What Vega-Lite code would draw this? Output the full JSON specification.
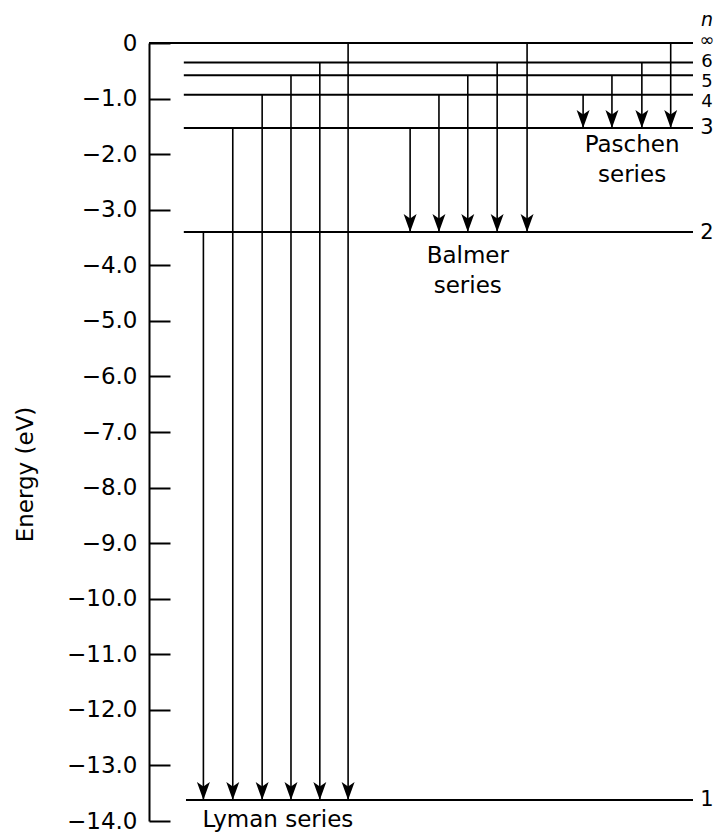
{
  "$schema": "https://vega.github.io/schema/vega-lite/v6.json",
  "autosize": "none",
  "width": 544,
  "height": 778,
  "padding": {"left": 149, "top": 43, "right": 22, "bottom": 13},
  "background": "white",
  "config": {
    "view": {"stroke": null},
    "font": "DejaVu Sans",
    "text": {"font": "DejaVu Sans"}
  },
  "datasets": {
    "levels": [
      {"n": "∞", "E": 0, "start": 0, "labelE": 0.027, "group": "upper"},
      {"n": "6", "E": -0.35, "start": 6.4, "labelE": -0.342, "group": "upper"},
      {"n": "5", "E": -0.58, "start": 6.4, "labelE": -0.702, "group": "upper"},
      {"n": "4", "E": -0.93, "start": 6.4, "labelE": -1.062, "group": "upper"},
      {"n": "3", "E": -1.53, "start": 6.4, "labelE": -1.53, "group": "lower"},
      {"n": "2", "E": -3.40, "start": 6.4, "labelE": -3.42, "group": "lower"},
      {"n": "1", "E": -13.62, "start": 6.8, "labelE": -13.62, "group": "lower"}
    ],
    "transitions": [
      {"series": "Lyman", "x": 10.0, "from": -3.40, "to": -13.62},
      {"series": "Lyman", "x": 15.4, "from": -1.53, "to": -13.62},
      {"series": "Lyman", "x": 20.8, "from": -0.93, "to": -13.62},
      {"series": "Lyman", "x": 26.1, "from": -0.58, "to": -13.62},
      {"series": "Lyman", "x": 31.4, "from": -0.35, "to": -13.62},
      {"series": "Lyman", "x": 36.6, "from": 0, "to": -13.62},
      {"series": "Balmer", "x": 48.0, "from": -1.53, "to": -3.40},
      {"series": "Balmer", "x": 53.3, "from": -0.93, "to": -3.40},
      {"series": "Balmer", "x": 58.6, "from": -0.58, "to": -3.40},
      {"series": "Balmer", "x": 64.0, "from": -0.35, "to": -3.40},
      {"series": "Balmer", "x": 69.5, "from": 0, "to": -3.40},
      {"series": "Paschen", "x": 79.8, "from": -0.93, "to": -1.53},
      {"series": "Paschen", "x": 85.1, "from": -0.58, "to": -1.53},
      {"series": "Paschen", "x": 90.6, "from": -0.35, "to": -1.53},
      {"series": "Paschen", "x": 95.9, "from": 0, "to": -1.53}
    ],
    "seriesLabels": [
      {"text": "Paschen", "x": 88.8, "y": -1.96},
      {"text": "series", "x": 88.8, "y": -2.50},
      {"text": "Balmer", "x": 58.6, "y": -3.95},
      {"text": "series", "x": 58.6, "y": -4.50},
      {"text": "Lyman series", "x": 23.7, "y": -14.1}
    ],
    "header": [
      {"text": "n", "y": 0.414}
    ]
  },
  "layer": [
    {
      "data": {"name": "levels"},
      "mark": {"type": "rule", "color": "black", "strokeWidth": 2},
      "encoding": {
        "x": {"field": "start", "type": "quantitative", "scale": {"domain": [0, 100], "nice": false, "zero": false}, "axis": null},
        "x2": {"datum": 100},
        "y": {
          "field": "E",
          "type": "quantitative",
          "scale": {"domain": [-14, 0], "nice": false, "zero": false},
          "axis": {
            "values": [0, -1, -2, -3, -4, -5, -6, -7, -8, -9, -10, -11, -12, -13, -14],
            "labelExpr": "datum.value == 0 ? '0' : format(datum.value, '.1f')",
            "grid": false,
            "domainColor": "black",
            "domainWidth": 2,
            "tickColor": "black",
            "tickWidth": 2,
            "tickSize": -21,
            "labelPadding": 33,
            "labelFont": "DejaVu Sans",
            "labelFontSize": 23,
            "labelColor": "black",
            "labelBound": false,
            "labelOverlap": false,
            "labelFlush": false,
            "title": "Energy (eV)",
            "titleFont": "DejaVu Sans",
            "titleFontSize": 23,
            "titleFontWeight": "normal",
            "titleColor": "black",
            "titleAngle": -90,
            "titleAlign": "center",
            "titleBaseline": "middle",
            "titleX": -124,
            "titleY": 431
          }
        }
      }
    },
    {
      "data": {"name": "levels"},
      "transform": [{"filter": "datum.group == 'upper'"}],
      "mark": {"type": "text", "align": "center", "baseline": "middle", "dx": 14, "fontSize": 18, "color": "black", "font": "DejaVu Sans"},
      "encoding": {
        "x": {"datum": 100},
        "y": {"field": "labelE", "type": "quantitative"},
        "text": {"field": "n"}
      }
    },
    {
      "data": {"name": "levels"},
      "transform": [{"filter": "datum.group == 'lower'"}],
      "mark": {"type": "text", "align": "center", "baseline": "middle", "dx": 14, "fontSize": 21, "color": "black", "font": "DejaVu Sans"},
      "encoding": {
        "x": {"datum": 100},
        "y": {"field": "labelE", "type": "quantitative"},
        "text": {"field": "n"}
      }
    },
    {
      "data": {"name": "header"},
      "mark": {"type": "text", "align": "center", "baseline": "middle", "dx": 14, "fontSize": 19, "fontStyle": "italic", "color": "black", "font": "DejaVu Sans"},
      "encoding": {
        "x": {"datum": 100},
        "y": {"field": "y", "type": "quantitative"},
        "text": {"field": "text"}
      }
    },
    {
      "data": {"name": "transitions"},
      "mark": {"type": "rule", "color": "black", "strokeWidth": 1.6},
      "encoding": {
        "x": {"field": "x", "type": "quantitative"},
        "y": {"field": "from", "type": "quantitative"},
        "y2": {"field": "to"}
      }
    },
    {
      "data": {"name": "transitions"},
      "mark": {"type": "point", "shape": "M0,0 L-0.72,-2 L0,-1.5 L0.72,-2 Z", "filled": true, "color": "black", "opacity": 1, "size": 324, "strokeWidth": 0},
      "encoding": {
        "x": {"field": "x", "type": "quantitative"},
        "y": {"field": "to", "type": "quantitative"}
      }
    },
    {
      "data": {"name": "seriesLabels"},
      "mark": {"type": "text", "align": "center", "baseline": "alphabetic", "fontSize": 23, "color": "black", "font": "DejaVu Sans"},
      "encoding": {
        "x": {"field": "x", "type": "quantitative"},
        "y": {"field": "y", "type": "quantitative"},
        "text": {"field": "text"}
      }
    }
  ]
}
